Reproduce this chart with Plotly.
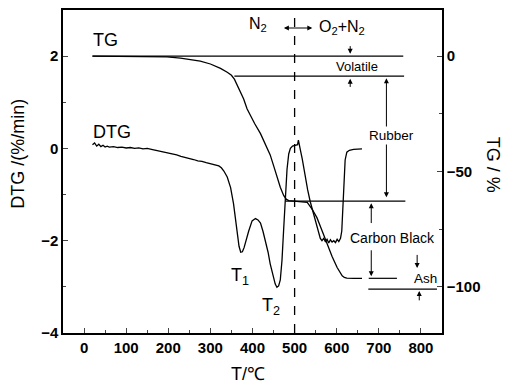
import plotly.graph_objects as go

# ---------------- data ----------------
tg_T = [20, 100, 197, 229, 276, 300, 324, 340, 350, 357, 363, 371, 379, 387, 395, 405, 419, 430, 442,
        451, 458, 466, 474, 480, 486, 498, 514, 530, 541, 553, 565, 577, 589, 601, 608, 613, 618, 624, 640, 660]
tg_V = [0, 0, -0.3, -0.9, -2.2, -3.4, -5.3, -7.0, -8.3, -10.0, -12.5, -15.2, -18.6, -22.8, -25.8, -29.2,
        -33.6, -38.0, -42.8, -48.0, -52.5, -56.8, -60.4, -62.0, -62.6, -62.8, -62.9, -63.4, -66.2, -70.0,
        -75.6, -81.4, -86.8, -91.6, -93.8, -95.2, -95.9, -96.2, -96.3, -96.3]

dtg_T = [20, 25, 30, 35, 40, 45, 50, 55, 60, 70, 80, 90, 100, 110, 120, 130, 140, 150, 160, 170, 180, 190,
         200, 210, 220, 230, 240, 250, 260, 270, 280, 290, 300, 310, 320, 326, 332, 340, 348, 355, 359, 364,
         368, 372, 376, 380, 385, 391, 399, 407, 413, 419, 425, 431, 437, 442, 448, 454, 458, 462, 466, 470,
         474, 478, 482, 486, 490, 495, 500, 505, 507, 509, 511, 514, 518, 522, 526, 531, 537, 543, 549, 553,
         557, 561, 565, 569, 573, 577, 581, 585, 589, 593, 597, 601, 605, 609, 612, 614, 616, 618, 620, 624,
         630, 640, 650, 660]
dtg_V = [0.08, 0.12, 0.05, 0.09, 0.04, 0.07, 0.03, 0.05, 0.03, 0.04, 0.02, 0.03, 0.01, 0.02, 0.0, 0.01,
         -0.01, 0.0, -0.02, -0.04, -0.05, -0.07, -0.09, -0.12, -0.14, -0.17, -0.19, -0.22, -0.24, -0.27,
         -0.28, -0.31, -0.33, -0.35, -0.38, -0.42, -0.49, -0.62, -0.85, -1.2, -1.5, -1.9, -2.12, -2.25,
         -2.24, -2.15, -1.98, -1.79, -1.57, -1.52, -1.55, -1.62, -1.8, -2.0, -2.25, -2.5, -2.75, -2.94,
         -3.01, -2.98, -2.85, -2.43, -1.75, -1.05, -0.45, -0.12, 0.0, 0.05, 0.06, 0.06, 0.08, 0.18,
         0.06, -0.05, -0.22, -0.45, -0.65, -0.9, -1.15, -1.35, -1.55, -1.72, -1.86, -1.95, -2.0, -1.95,
         -2.02, -1.97, -2.05, -1.98, -2.03, -2.0, -2.04, -1.97, -2.02, -1.95, -1.79, -1.4, -1.0, -0.55,
         -0.25, -0.08, -0.04, -0.02, -0.02, -0.01]

# horizontal TG reference levels (%), with their start / end temperatures
ref_levels = [0, -8.7, -62.8, -96.3, -101]
ref_starts = [20, 357, 478, 676, 675]
ref_ends = [758, 760, 763, 743, 838]

x_ticks = [0, 100, 200, 300, 400, 500, 600, 700, 800]
y_ticks = [-4, -2, 0, 2]
y2_ticks = [-100, -50, 0]

FONT = "Liberation Sans"

fig = go.Figure()
fig.add_trace(go.Scatter(x=dtg_T, y=dtg_V, mode="lines", line=dict(color="black", width=1.3),
                         showlegend=False, yaxis="y"))
fig.add_trace(go.Scatter(x=tg_T, y=tg_V, mode="lines", line=dict(color="black", width=1.3),
                         showlegend=False, yaxis="y2"))

shapes = []
for lv, s, e in zip(ref_levels, ref_starts, ref_ends):
    shapes.append(dict(type="line", xref="x", yref="y2", x0=s, x1=e, y0=lv, y1=lv,
                       line=dict(color="black", width=1.2)))
shapes.append(dict(type="line", xref="x", yref="paper", x0=500, x1=500, y0=0, y1=0.99,
                   line=dict(color="black", width=1.3, dash="dash")))

ann = []
def arrow(x, y_head, y_tail, both=False, x_tail=None, y_ref="y2"):
    ann.append(dict(x=x, y=y_head, ax=x if x_tail is None else x_tail, ay=y_tail,
                    xref="x", yref=y_ref, axref="x", ayref=y_ref, text="", showarrow=True,
                    arrowhead=2, arrowsize=1, arrowwidth=1, arrowcolor="black",
                    arrowside="end+start" if both else "end"))

# N2 <-> O2+N2
arrow(542, 12.2, 12.2, both=True, x_tail=471)
# Volatile
arrow(632, 1.0, 5.0)
arrow(632, -9.8, -14.0)
# Rubber
arrow(718, -9.6, -61.8, both=True)
# Carbon black
arrow(682, -63.8, -73.0)
arrow(682, -95.4, -83.5)
# Ash
arrow(791, -91.8, -85.5)
arrow(796, -101.8, -106.5)

def text(x, y, t, size, yref="y2", bg=None):
    d = dict(x=x, y=y, xref="x", yref=yref, text=t, showarrow=False,
             font=dict(family=FONT, size=size, color="black"), xanchor="center", yanchor="middle")
    if bg:
        d["bgcolor"] = bg
    ann.append(d)

text(51, 7, "TG", 18)
text(67, 0.35, "DTG", 18, yref="y")
text(371, -2.78, "T<sub>1</sub>", 18, yref="y")
text(443, -3.42, "T<sub>2</sub>", 18, yref="y")
text(412, 13.6, "N<sub>2</sub>", 16)
text(613, 12.6, "O<sub>2</sub>+N<sub>2</sub>", 16)
text(647, -4.4, "Volatile", 13)
text(729, -34.3, "Rubber", 13.5, bg="white")
text(732, -78.7, "Carbon Black", 14, bg="white")
text(810, -96.5, "Ash", 13.5)

# axis titles
ann.append(dict(x=-0.119, y=0.555, xref="paper", yref="paper", text="DTG /(%/min)", showarrow=False,
                textangle=-90, font=dict(family=FONT, size=18, color="black"),
                xanchor="center", yanchor="middle"))
ann.append(dict(x=1.135, y=0.52, xref="paper", yref="paper", text="TG / %", showarrow=False,
                textangle=90, font=dict(family=FONT, size=18, color="black"),
                xanchor="center", yanchor="middle"))
ann.append(dict(x=0.488, y=-0.127, xref="paper", yref="paper", text="T/℃", showarrow=False,
                font=dict(family=FONT, size=18, color="black"),
                xanchor="center", yanchor="middle"))

tickfont = dict(family=FONT, size=15, color="black", weight="bold")

# the page body adds an 8 px offset, so margins are shifted to compensate
fig.update_layout(
    width=510, height=383,
    margin=dict(l=55, r=76, t=0, b=58),
    paper_bgcolor="white", plot_bgcolor="white",
    shapes=shapes, annotations=ann, showlegend=False,
    xaxis=dict(range=[-50, 850], tickvals=x_ticks, ticks="inside", ticklen=5, tickwidth=1,
               showline=True, linecolor="black", linewidth=1.5, mirror=True,
               showgrid=False, zeroline=False, tickfont=tickfont,
               minor=dict(ticks="inside", dtick=50, tick0=0, ticklen=3, tickwidth=1, showgrid=False)),
    yaxis=dict(range=[-4, 3], tickvals=y_ticks, ticks="inside", ticklen=5, tickwidth=1,
               showline=True, linecolor="black", linewidth=1.5,
               showgrid=False, zeroline=False, tickfont=tickfont,
               minor=dict(ticks="inside", dtick=1, tick0=0, ticklen=3, tickwidth=1, showgrid=False)),
    yaxis2=dict(range=[-120, 20], tickvals=y2_ticks, ticks="inside", ticklen=5, tickwidth=1,
                overlaying="y", side="right",
                showline=True, linecolor="black", linewidth=1.5,
                showgrid=False, zeroline=False, tickfont=tickfont,
                minor=dict(ticks="inside", dtick=25, tick0=0, ticklen=3, tickwidth=1, showgrid=False)),
)

fig.write_html("out.html")
